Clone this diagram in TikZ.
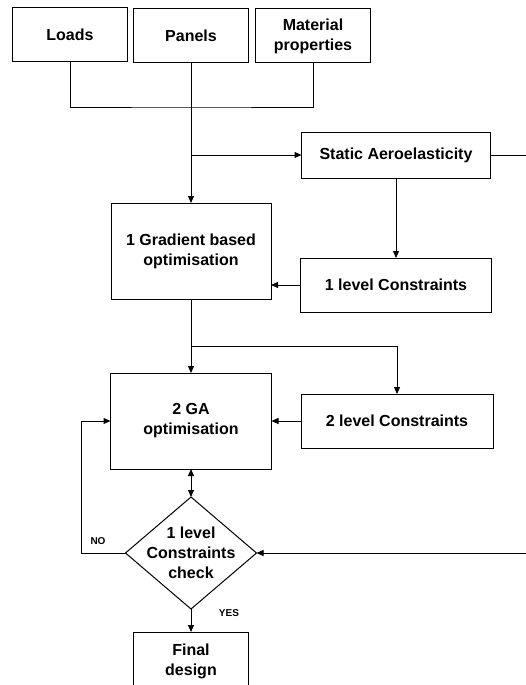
\documentclass[tikz,border=0pt]{standalone}
\usepackage{fontspec}
\setmainfont{Liberation Sans}
\usetikzlibrary{arrows.meta,shapes.geometric}

\tikzset{
  box/.style={draw, align=center, inner sep=0pt, outer sep=0pt, font=\fontsize{16}{20}\selectfont\bfseries},
  decision/.style={diamond, draw, inner sep=0pt, outer sep=0pt, minimum width=131pt, minimum height=112pt},
  flow/.style={-{Triangle[length=7pt,width=6pt]}},
  flowboth/.style={{Triangle[length=7pt,width=6pt]}-{Triangle[length=7pt,width=6pt]}},
  tag/.style={font=\fontsize{10}{12}\selectfont\bfseries, inner sep=0pt}
}

\begin{document}
\begin{tikzpicture}[x=1pt, y=-1pt, line width=1pt]
    \useasboundingbox (0,0) rectangle (526,685);

    \node[box, minimum width=115pt, minimum height=54pt] (loads) at (70,35) {Loads};
    \node[box, minimum width=115pt, minimum height=54pt] (panels) at (191,36) {Panels};
    \node[box, minimum width=115pt, minimum height=54pt] (mat) at (313,36) {Material\\properties};

    \node[box, minimum width=189pt, minimum height=46pt] (sa) at (396,155) {Static Aeroelasticity};
    \node[box, minimum width=160pt, minimum height=96pt] (gb) at (191,251) {1 Gradient based\\optimisation};
    \node[box, minimum width=191pt, minimum height=54pt] (lc1) at (396,285) {1 level Constraints};

    \node[box, minimum width=161pt, minimum height=96pt] (ga) at (191,421) {2 GA\\optimisation};
    \node[box, minimum width=192pt, minimum height=54pt] (lc2) at (397,421) {2 level Constraints};

    \node[decision] (chk) at (191,553) {};
    \node[box, draw=none] (chktext) at (chk) {1 level\\Constraints\\check};

    \node[box, minimum width=115pt, minimum height=58pt] (fin) at (191,661) {Final\\design};

    \node[tag] (no) at (98,541) {NO};
    \node[tag] (yes) at (229,613) {YES};

    \coordinate (join) at (191,107);
    \coordinate (split1) at (191,155);
    \coordinate (split2) at (191,346);
    \coordinate (edge1) at (526,155);
    \coordinate (edge2) at (526,553);
    \coordinate (noturn) at (81,553);

    \draw (loads.south) |- (join) -| (mat.south);
    \draw[flow] (panels.south) -- (gb.north);
    \draw[flow] (split1) -- (sa.west);
    \draw (sa.east) -- (edge1);
    \draw[flow] (sa.south) -- (lc1.north);
    \draw[flow] (lc1.west) -- (gb.east |- lc1.west);
    \draw[flow] (gb.south) -- (ga.north);
    \draw[flow] (split2) -| (lc2.north);
    \draw[flow] (lc2.west) -- (ga.east);
    \draw[flowboth] (ga.south) -- (chk.north);
    \draw[flow] (chk.west) -- (noturn) |- (ga.west);
    \draw[flow] (edge2) -- (chk.east);
    \draw[flow] (chk.south) -- (fin.north);
\end{tikzpicture}
\end{document}
